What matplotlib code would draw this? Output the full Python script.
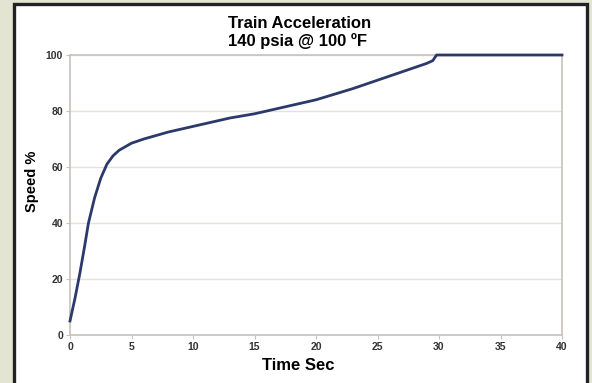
import matplotlib
matplotlib.use("Agg")
import matplotlib.pyplot as plt
from matplotlib.patches import Rectangle

plt.rcParams['font.family'] = ['Liberation Sans', 'DejaVu Sans']

time_sec = [0, 0.4, 0.8, 1.2, 1.5, 2.0, 2.5, 3.0, 3.5, 4.0, 5.0, 6.0, 8.0, 10.0,
            13.0, 15.0, 18.0, 20.0, 23.0, 25.0, 27.0, 29.0, 29.5, 29.8, 30.0, 35.0, 40.0]
speed_pct = [5, 13, 22, 32, 40, 49, 56, 61, 64, 66, 68.5, 70, 72.5, 74.5,
             77.5, 79, 82, 84, 88, 91, 94, 97, 98, 100, 100, 100, 100]
x_ticks = [0, 5, 10, 15, 20, 25, 30, 35, 40]
y_ticks = [0, 20, 40, 60, 80, 100]

fig = plt.figure(figsize=(5.92, 3.83), dpi=100)
fig.patch.set_facecolor('#e3e5d2')
frame = Rectangle((14/592, -0.02), (587-14)/592, (383-3.5)/383 + 0.02,
                  transform=fig.transFigure, facecolor='white',
                  edgecolor='#222222', linewidth=2.4, zorder=-5)
fig.patches.append(frame)

ax = fig.add_axes([70/592, (383-335)/383, (562-70)/592, (335-55)/383])
ax.set_zorder(2)
ax.set_facecolor('white')
ax.plot(time_sec, speed_pct, color='#2b3a6b', linewidth=2.0, solid_joinstyle='round',
        clip_on=False, zorder=4)
ax.set_xlim(0, 40)
ax.set_ylim(0, 100)
ax.set_xticks(x_ticks)
ax.set_yticks(y_ticks)
ax.grid(axis='y', color='#e6e0dc', linewidth=1.0)
ax.set_axisbelow(True)
for s in ax.spines.values():
    s.set_color('#c9c0ba')
    s.set_linewidth(1.2)
ax.tick_params(axis='both', length=3, width=0.8, color='#c9c0ba',
               labelsize=7.5, labelcolor='#333333', pad=2)
for lab in ax.get_xticklabels() + ax.get_yticklabels():
    lab.set_fontweight('bold')

fig.text(300/592, 1 - 28/383, 'Train Acceleration', ha='center', va='baseline',
         fontsize=12, fontweight='bold', zorder=3)
fig.text(297/592, 1 - 46/383, '140 psia @ 100 ºF', ha='center', va='baseline',
         fontsize=12, fontweight='bold', zorder=3)
fig.text(39/592, 1 - 181/383, 'Speed %', rotation=90, ha='right', va='center',
         fontsize=10.5, fontweight='bold', zorder=3)
fig.text(298/592, 1 - 370/383, 'Time Sec', ha='center', va='baseline',
         fontsize=12, fontweight='bold', zorder=3)

fig.savefig('out.png', dpi=100, facecolor=fig.get_facecolor())
